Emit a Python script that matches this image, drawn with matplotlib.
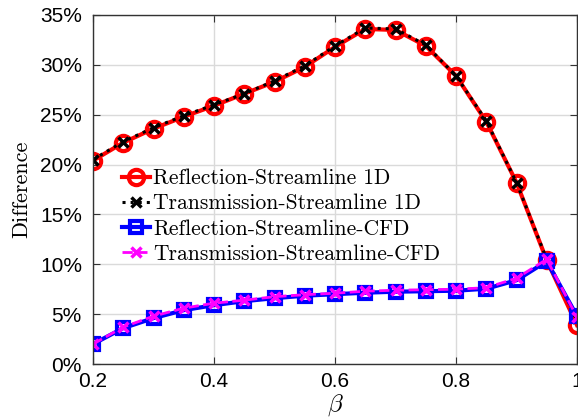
import matplotlib
matplotlib.use("Agg")
import matplotlib.pyplot as plt
from matplotlib.ticker import FuncFormatter

plt.rcParams['mathtext.fontset'] = 'cm'

# beta values
beta = [0.2, 0.25, 0.3, 0.35, 0.4, 0.45, 0.5, 0.55, 0.6, 0.65,
        0.7, 0.75, 0.8, 0.85, 0.9, 0.95, 1.0]

# differences in percent
refl_1d = [20.4, 22.2, 23.6, 24.8, 25.9, 27.1, 28.3, 29.8, 31.8, 33.6,
           33.5, 31.9, 28.9, 24.3, 18.2, 10.4, 3.9]
trans_1d = [20.5, 22.3, 23.7, 24.9, 26.0, 27.1, 28.4, 29.9, 31.9, 33.7,
            33.6, 32.0, 28.9, 24.4, 18.2, 10.5, 4.6]
refl_cfd = [2.0, 3.6, 4.6, 5.4, 5.9, 6.3, 6.6, 6.85, 7.0, 7.15,
            7.25, 7.3, 7.35, 7.55, 8.4, 10.3, 4.8]
trans_cfd = [2.0, 3.7, 4.8, 5.6, 6.1, 6.4, 6.75, 6.95, 7.1, 7.3,
             7.4, 7.45, 7.5, 7.65, 8.6, 10.5, 4.7]

labels = ['Reflection-Streamline 1D', 'Transmission-Streamline 1D',
          'Reflection-Streamline-CFD', 'Transmission-Streamline-CFD']

fig = plt.figure(figsize=(5.78, 4.18), dpi=100)
ax = fig.add_axes([93/578, 1-364/418, (577-93)/578, (364-15)/418])

ax.plot(beta, refl_1d, color='#ff0000', lw=3, marker='o', ms=11,
        mfc='none', mew=3, label=labels[0])
ax.plot(beta, trans_1d, color='black', lw=2.2, ls=':', marker='x', ms=7,
        mew=2.5, label=labels[1])
ax.plot(beta, refl_cfd, color='#0000ff', lw=3, marker='s', ms=9,
        mfc='none', mew=3, label=labels[2])
ax.plot(beta, trans_cfd, color='#ff00ff', lw=2, ls='--', marker='x', ms=7,
        mew=2.5, label=labels[3])

ax.set_xlim(0.2, 1.0)
ax.set_ylim(0, 35)
ax.set_xticks([0.2, 0.4, 0.6, 0.8, 1.0])
ax.set_xticklabels(['0.2', '0.4', '0.6', '0.8', '1'])
ax.set_yticks(range(0, 36, 5))
ax.yaxis.set_major_formatter(FuncFormatter(lambda v, p: '%d%%' % v))
ax.tick_params(direction='in', length=5, labelsize=15, color='#333333',
               top=True, right=True)
ax.tick_params(axis='y', pad=8)
ax.tick_params(axis='x', pad=6)
for lab in ax.get_xticklabels() + ax.get_yticklabels():
    lab.set_family('Liberation Sans')
ax.grid(True, color='#dadada', lw=1)
ax.set_axisbelow(True)
for s in ax.spines.values():
    s.set_color('#333333')
    s.set_linewidth(1)

ax.set_xlabel(r'$\beta$', fontsize=18, labelpad=1)
ax.set_ylabel('Difference', fontsize=16, family='cmr10', labelpad=6)

ax.legend(loc='upper left', bbox_to_anchor=(0.037, 0.59), frameon=False,
          prop={'family': 'cmr10', 'size': 15.5}, handlelength=1.3,
          handletextpad=0.15, labelspacing=0.26, borderpad=0)

fig.savefig('out.png', dpi=100)
